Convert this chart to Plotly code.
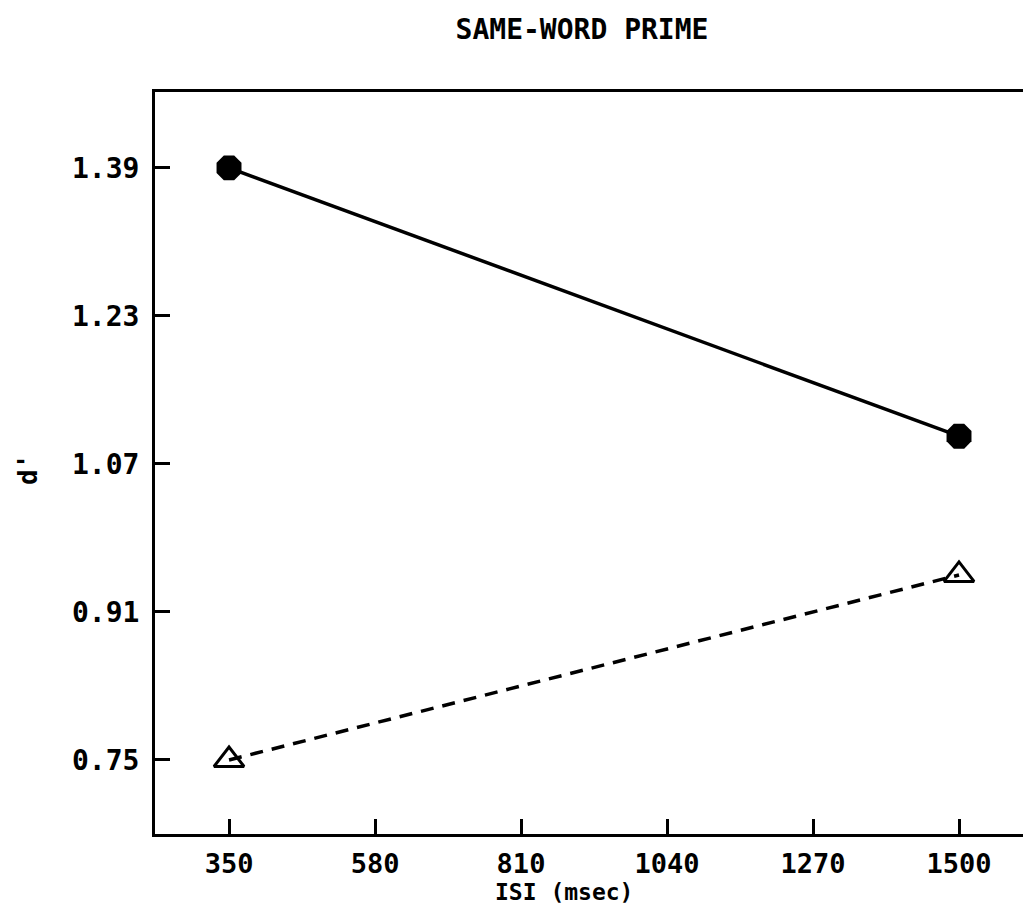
import plotly.graph_objects as go

isi = [350, 1500]
same_word = [1.39, 1.10]
control = [0.75, 0.95]
x_ticks = [350, 580, 810, 1040, 1270, 1500]
y_ticks = [0.75, 0.91, 1.07, 1.23, 1.39]

FONT = "DejaVu Sans Mono"

fig = go.Figure()
fig.add_trace(go.Scatter(
    x=isi, y=same_word, mode="lines+markers",
    line=dict(color="black", width=3.5),
    marker=dict(symbol="octagon", size=27, color="black"),
    showlegend=False,
))
fig.add_trace(go.Scatter(
    x=isi, y=control, mode="lines+markers",
    line=dict(color="black", width=3.5, dash="13px,9px"),
    marker=dict(symbol="triangle-up-open", size=26, color="black",
                line=dict(color="black", width=3)),
    showlegend=False,
))

fig.update_layout(
    width=1023, height=917,
    margin=dict(l=155, r=0, t=92, b=83),
    paper_bgcolor="white", plot_bgcolor="white",
    font=dict(family=FONT, color="black"),
    title=dict(text="<b>SAME-WORD PRIME</b>", x=582/1023, xanchor="center",
               y=1 - 29/917, yanchor="middle",
               font=dict(family=FONT, size=28, color="black")),
)
fig.update_xaxes(
    range=[233.4, 1600.8], tickvals=x_ticks,
    ticktext=[f"<b>{v}</b>" for v in x_ticks],
    showgrid=False, zeroline=False, showline=True, linecolor="black", linewidth=3,
    mirror=True, ticks="inside", ticklen=15, tickwidth=3, tickcolor="black",
    tickfont=dict(family=FONT, size=27, color="black"), ticklabelstandoff=4,
)
fig.update_yaxes(
    range=[0.670, 1.472], tickvals=y_ticks,
    ticktext=[f"<b>{v:.2f}</b>" for v in y_ticks],
    showgrid=False, zeroline=False, showline=True, linecolor="black", linewidth=3,
    ticks="inside", ticklen=15, tickwidth=3, tickcolor="black",
    tickfont=dict(family=FONT, size=28, color="black"), ticklabelstandoff=7,
)
fig.add_annotation(text="<b>ISI (msec)</b>", xref="paper", yref="paper",
                   x=(564 - 155) / 868, y=-(892 - 834) / 742, xanchor="center",
                   yanchor="middle", showarrow=False,
                   font=dict(family=FONT, size=23, color="black"))
fig.add_annotation(text="<b>d'</b>", xref="paper", yref="paper",
                   x=-(155 - 28) / 868, y=(834 - 470) / 742, xanchor="center",
                   yanchor="middle", showarrow=False, textangle=-90,
                   font=dict(family=FONT, size=26, color="black"))

fig.write_html("out.html")
